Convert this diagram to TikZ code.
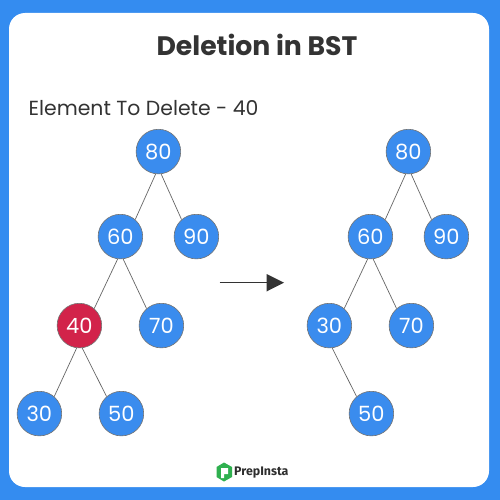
\documentclass[tikz,border=0pt]{standalone}
\usepackage{fontspec}
\setmainfont{Poppins}
\newfontfamily\logofont{Fira Sans}
\definecolor{bluebg}{HTML}{348CF0}
\definecolor{nodeblue}{HTML}{3A8CEE}
\definecolor{nodered}{HTML}{D2234A}
\definecolor{ink}{HTML}{333333}
\definecolor{logogreen}{HTML}{2FB04F}
\tikzset{
 tnode/.style={circle,draw=black!55,line width=0.6pt,fill=nodeblue,minimum size=44.6pt,inner sep=0pt,text=white,font=\fontsize{21}{24}\selectfont},
 rednode/.style={tnode,fill=nodered},
 tedge/.style={draw=black!60,line width=0.7pt},
}
\newcommand{\lk}[2]{\draw[tedge] (#1.-97) -- (#2.49);}
\newcommand{\rk}[2]{\draw[tedge] (#1.-83) -- (#2.131);}
\begin{document}
\begin{tikzpicture}[x=1pt,y=-1pt]
\useasboundingbox (0,0) rectangle (500,500);
\fill[bluebg] (0,0) rectangle (500,500);
\fill[white,rounded corners=16pt] (9,13) rectangle (489,487);
\node[text=ink,font=\fontsize{26.7}{30}\selectfont\bfseries] (title) at (257,45) {Deletion in BST};
\node[text=ink,anchor=west,inner sep=0pt,font=\fontsize{20.4}{24}\selectfont] (sub) at (28.5,108) {Element To Delete - 40};
\node[tnode] (a80) at (158.4,151.6) {80};
\node[tnode] (a60) at (120.4,236.6) {60};
\node[tnode] (a90) at (196.4,236.6) {90};
\node[rednode] (a40) at (79.4,325.6) {40};
\node[tnode] (a70) at (161.4,325.6) {70};
\node[tnode] (a30) at (39.4,413.6) {30};
\node[tnode] (a50) at (121.4,413.6) {50};
\lk{a80}{a60}\rk{a80}{a90}\lk{a60}{a40}\rk{a60}{a70}\lk{a40}{a30}\rk{a40}{a50}
\node[tnode] (b80) at (408.4,151.6) {80};
\node[tnode] (b60) at (370.4,236.6) {60};
\node[tnode] (b90) at (446.4,236.6) {90};
\node[tnode] (b30) at (329.4,325.6) {30};
\node[tnode] (b70) at (411.4,325.6) {70};
\node[tnode] (b50) at (371.4,413.6) {50};
\lk{b80}{b60}\rk{b80}{b90}\lk{b60}{b30}\rk{b60}{b70}\rk{b30}{b50}
\coordinate (s) at (219.5,282.5);
\coordinate (t) at (267,282.5);
\draw[ink,line width=0.8pt] (s) -- (t);
\fill[ink] (266.5,274) -- (284,282.7) -- (266.5,291.5) -- cycle;
\fill[logogreen] (224,462.5) -- (232,467) -- (232,477) -- (224,481.5) -- (216.5,477) -- (216.5,467) -- cycle;
\fill[white] (221,468) -- (228,468) -- (228,474) -- (224,474) -- (224,478) -- (221,478) -- cycle;
\node[anchor=west,inner sep=0pt,text=ink!90!black,font=\logofont\fontsize{12.4}{14}\selectfont\bfseries] (logo) at (234,472.5) {PrepInsta};
\end{tikzpicture}
\end{document}
